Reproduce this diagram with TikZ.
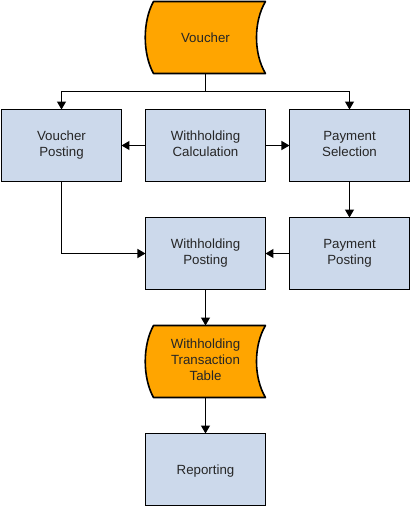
\documentclass[tikz,border=0pt]{standalone}
\usepackage{fontspec}
\setmainfont{Liberation Sans}
\usetikzlibrary{arrows.meta,positioning,backgrounds,calc}
\definecolor{boxblue}{RGB}{204,217,235}
\definecolor{storeorange}{RGB}{255,165,0}
\newcommand{\boxstrut}{\rule[-3pt]{0pt}{15pt}}
\tikzset{%
   task/.style={rectangle, draw=black, fill=boxblue, line width=1.6pt, minimum width=120pt, minimum height=72pt, outer sep=0pt, align=center, execute at begin node=\boxstrut, execute at end node=\boxstrut},
   store/.style={rectangle, minimum width=120pt, minimum height=72pt, outer sep=0pt, align=center, execute at begin node=\boxstrut, execute at end node=\boxstrut},
   storeline/.style={draw=black, fill=storeorange, line width=1.6pt, line join=round},
   arr/.style={-{Triangle[length=8pt,width=9pt]}, line width=1.2pt},
}

\begin{document}
\begin{tikzpicture}[font=\fontsize{13.3}{16}\selectfont, text=black!85]
      \node[store] (vch) {Voucher};
      \node[task, below=36pt of vch] (wcalc) {Withholding\\Calculation};
      \node[task, left=24pt of wcalc] (vpost) {Voucher\\Posting};
      \node[task, right=24pt of wcalc] (psel) {Payment\\Selection};
      \node[task, below=36pt of wcalc] (wpost) {Withholding\\Posting};
      \node[task, below=36pt of psel] (ppost) {Payment\\Posting};
      \node[store, below=36pt of wpost] (wtt) {Withholding\\Transaction\\Table};
      \node[task, below=36pt of wtt] (rep) {Reporting};
      \begin{scope}[on background layer]
         \foreach \n in {vch, wtt}
            \draw[storeline] ([xshift=8pt]\n.north west) .. controls ([xshift=-3pt,yshift=-20pt]\n.north west) and ([xshift=-3pt,yshift=20pt]\n.south west) .. ([xshift=8pt]\n.south west) -- (\n.south east) .. controls ([xshift=-12pt,yshift=20pt]\n.south east) and ([xshift=-12pt,yshift=-20pt]\n.north east) .. (\n.north east) -- cycle;
      \end{scope}
      \draw[line width=1.2pt] (vch.south) -- ++(0,-18pt) coordinate (split);
      \draw[arr] (split) -| (vpost.north);
      \draw[arr] (split) -| (psel.north);
      \draw[arr] (wcalc) -- (vpost);
      \draw[arr] (wcalc) -- (psel);
      \draw[arr] (psel) -- (ppost);
      \draw[arr] (ppost) -- (wpost);
      \draw[arr] (vpost) |- (wpost);
      \draw[arr] (wpost) -- (wtt);
      \draw[arr] (wtt) -- (rep);
      \useasboundingbox ($(vpost.west|-vch.north)+(-1.5pt,1.5pt)$) rectangle ($(psel.east|-rep.south)+(1.5pt,-1.5pt)$);
   \end{tikzpicture}
\end{document}
